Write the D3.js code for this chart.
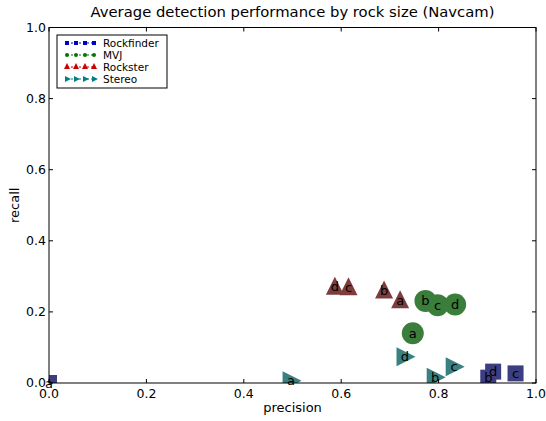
<!DOCTYPE html>
<html><head><meta charset="utf-8">
<script src="https://cdn.jsdelivr.net/npm/d3@7"></script>
<style>body{margin:0;background:#fff}text{font-family:"DejaVu Sans",sans-serif}</style>
</head><body>
<svg id="c" width="546" height="421"></svg>
<script>
const seriesNames = ["Rockfinder", "MVJ", "Rockster", "Stereo"];
const sizeLabels = ["a", "b", "c", "d"];
const rockfinderPrecision = [0.0, 0.902, 0.958, 0.912];
const rockfinderRecall    = [0.0, 0.015, 0.027, 0.032];
const mvjPrecision = [0.747, 0.773, 0.798, 0.834];
const mvjRecall    = [0.140, 0.231, 0.219, 0.221];
const rocksterPrecision = [0.721, 0.688, 0.615, 0.587];
const rocksterRecall    = [0.233, 0.260, 0.269, 0.271];
const stereoPrecision = [0.497, 0.793, 0.832, 0.731];
const stereoRecall    = [0.006, 0.016, 0.046, 0.074];
const xTicks = [0.0, 0.2, 0.4, 0.6, 0.8, 1.0];
const yTicks = [0.0, 0.2, 0.4, 0.6, 0.8, 1.0];

const W = 546, H = 421;
const m = {l: 49, r: 10, t: 27.5, b: 38};
const svg = d3.select("#c");
const x = d3.scaleLinear().domain([0, 1]).range([m.l, W - m.r]);
const y = d3.scaleLinear().domain([0, 1]).range([H - m.b, m.t]);

svg.append("defs").append("clipPath").attr("id", "clip")
  .append("rect").attr("x", m.l).attr("y", m.t)
  .attr("width", W - m.r - m.l).attr("height", H - m.b - m.t);

const series = [
  {name: seriesNames[0], px: rockfinderPrecision, py: rockfinderRecall, fill: "#3d3d82", legend: "#0000cc", sym: "square"},
  {name: seriesNames[1], px: mvjPrecision, py: mvjRecall, fill: "#3b7d3b", legend: "#007700", sym: "circle"},
  {name: seriesNames[2], px: rocksterPrecision, py: rocksterRecall, fill: "#7d3d3d", legend: "#cc0000", sym: "triangle"},
  {name: seriesNames[3], px: stereoPrecision, py: stereoRecall, fill: "#3a8080", legend: "#008080", sym: "right"}
];

function shape(g, sym, s, color) {
  if (sym === "square") {
    g.append("rect").attr("x", -s / 2).attr("y", -s / 2).attr("width", s).attr("height", s).attr("fill", color);
  } else if (sym === "circle") {
    g.append("circle").attr("r", s / 2).attr("fill", color);
  } else if (sym === "triangle") {
    const h = s * 0.5;
    g.append("path").attr("d", `M0,${-h - 2}L${h + 1},${h}L${-h - 1},${h}Z`).attr("fill", color);
  } else {
    const h = s * 0.5;
    g.append("path").attr("d", `M${h + 2},0L${-h},${-h - 1}L${-h},${h + 1}Z`).attr("fill", color);
  }
}

const plot = svg.append("g").attr("clip-path", "url(#clip)");
const sizes = {square: 16, circle: 22, triangle: 16, right: 17};
series.forEach(s => {
  s.px.forEach((v, i) => {
    const g = plot.append("g").attr("transform", `translate(${x(v)},${y(s.py[i])})`);
    shape(g, s.sym, sizes[s.sym], s.fill);
  });
});
series.forEach(s => {
  s.px.forEach((v, i) => {
    svg.append("text").attr("x", x(v)).attr("y", y(s.py[i]))
      .attr("text-anchor", "middle").attr("dy", "0.35em")
      .attr("font-size", 13).attr("fill", "#000").text(sizeLabels[i]);
  });
});

svg.append("rect").attr("x", m.l).attr("y", m.t).attr("width", W - m.r - m.l).attr("height", H - m.b - m.t)
  .attr("fill", "none").attr("stroke", "#000").attr("stroke-width", 1);

const tl = 4;
xTicks.forEach(t => {
  svg.append("line").attr("x1", x(t)).attr("x2", x(t)).attr("y1", y(0)).attr("y2", y(0) - tl).attr("stroke", "#000");
  svg.append("line").attr("x1", x(t)).attr("x2", x(t)).attr("y1", y(1)).attr("y2", y(1) + tl).attr("stroke", "#000");
  svg.append("text").attr("x", x(t)).attr("y", y(0) + 15).attr("text-anchor", "middle")
    .attr("font-size", 12.5).attr("fill", "#000").text(d3.format(".1f")(t));
});
yTicks.forEach(t => {
  svg.append("line").attr("x1", x(0)).attr("x2", x(0) + tl).attr("y1", y(t)).attr("y2", y(t)).attr("stroke", "#000");
  svg.append("line").attr("x1", x(1)).attr("x2", x(1) - tl).attr("y1", y(t)).attr("y2", y(t)).attr("stroke", "#000");
  svg.append("text").attr("x", x(0) - 3).attr("y", y(t)).attr("dy", "0.35em").attr("text-anchor", "end")
    .attr("font-size", 12.5).attr("fill", "#000").text(d3.format(".1f")(t));
});

svg.append("text").attr("x", (x(0) + x(1)) / 2).attr("y", 412).attr("text-anchor", "middle")
  .attr("font-size", 13).text("precision");
svg.append("text").attr("transform", `translate(19,${(y(0) + y(1)) / 2}) rotate(-90)`).attr("text-anchor", "middle")
  .attr("font-size", 13).text("recall");
svg.append("text").attr("x", (x(0) + x(1)) / 2).attr("y", 17).attr("text-anchor", "middle")
  .attr("font-size", 14.8).text("Average detection performance by rock size (Navcam)");

const lg = svg.append("g").attr("transform", "translate(57,35)");
lg.append("rect").attr("width", 110).attr("height", 53).attr("fill", "#fff").attr("stroke", "#000").attr("stroke-width", 1);
series.forEach((s, i) => {
  const yy = 8 + i * 12;
  lg.append("line").attr("x1", 10).attr("x2", 38).attr("y1", yy).attr("y2", yy)
    .attr("stroke", s.legend).attr("stroke-width", 1).attr("stroke-dasharray", "2,2");
  [10, 19, 28, 37].forEach(mx => {
    const g = lg.append("g").attr("transform", `translate(${mx},${yy})`);
    shape(g, s.sym, 4, s.legend);
  });
  lg.append("text").attr("x", 46).attr("y", yy).attr("dy", "0.35em").attr("font-size", 10.5).text(s.name);
});
</script>
</body></html>
